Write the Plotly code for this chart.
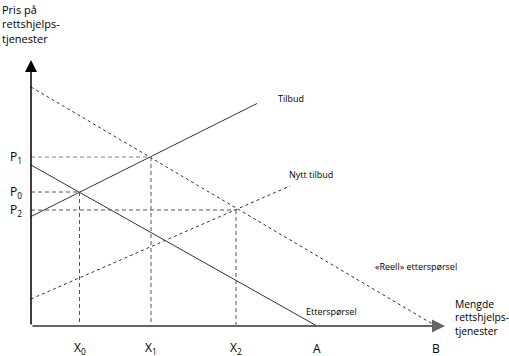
import plotly.graph_objects as go

# Quantities (x) and prices (y) in abstract units
demand_q = [0, 28.6]
demand_p = [16.1, 0]
real_demand_q = [0, 40.5]
real_demand_p = [23.9, 0]
supply_q = [0, 22.6]
supply_p = [10.95, 22.25]
new_supply_q = [0, 25.9]
new_supply_p = [2.7, 14.0]

eq_q = [4.85, 12.0, 20.5]     # X0, X1, X2
eq_p = [13.4, 16.9, 11.6]     # P0, P1, P2
x_tick_vals = [4.85, 12.0, 20.5, 28.6, 40.5]
x_tick_text = ["X<sub>0</sub>", "X<sub>1</sub>", "X<sub>2</sub>", "A", "B"]
y_tick_vals = [13.4, 16.9, 11.6]
y_tick_text = ["P<sub>0</sub>", "P<sub>1</sub>", "P<sub>2</sub>"]

FONT = "Open Sans"
dark = "#333333"
grey = "#555555"
lightgrey = "#aaaaaa"

fig = go.Figure()

def line(q, p, color, width=1, dash="solid"):
    fig.add_trace(go.Scatter(x=q, y=p, mode="lines",
                             line=dict(color=color, width=width, dash=dash),
                             hoverinfo="skip", showlegend=False))

line(demand_q, demand_p, dark, 1)
line(real_demand_q, real_demand_p, dark, 1, "3px,3px")
line(supply_q, supply_p, dark, 1)
line(new_supply_q, new_supply_p, dark, 1, "3px,3px")

# guide lines
h_colors = [grey, lightgrey, grey]
h_widths = [1, 1.6, 1]
for i in range(3):
    line([0, eq_q[i]], [eq_p[i], eq_p[i]], h_colors[i], h_widths[i], "4px,3px")
    line([eq_q[i], eq_q[i]], [eq_p[i], 0], grey, 1, "4px,3px")

# axes with arrows
fig.add_annotation(x=41.4, y=0, ax=0, ay=0, xref="x", yref="y", axref="x", ayref="y",
                   text="", showarrow=True, arrowhead=2, arrowsize=1.3, arrowwidth=2,
                   arrowcolor="#666666")
fig.add_annotation(x=0, y=26.6, ax=0, ay=0, xref="x", yref="y", axref="x", ayref="y",
                   text="", showarrow=True, arrowhead=2, arrowsize=1.6, arrowwidth=1.5,
                   arrowcolor="black")

# tick labels
for v, t in zip(x_tick_vals, x_tick_text):
    fig.add_annotation(x=v, y=-2.2, text=t, showarrow=False, xref="x", yref="y",
                       font=dict(family=FONT, size=12, color="black"))
for v, t in zip(y_tick_vals, y_tick_text):
    fig.add_annotation(x=-1.5, y=v, text=t, showarrow=False, xref="x", yref="y",
                       font=dict(family=FONT, size=12, color="black"))

# curve labels
small = dict(family=FONT, size=9, color="black")
fig.add_annotation(x=26.0, y=22.8, text="Tilbud", showarrow=False, font=small)
fig.add_annotation(x=28.0, y=15.2, text="Nytt tilbud", showarrow=False, font=small)
fig.add_annotation(x=38.5, y=6.0, text="«Reell» etterspørsel", showarrow=False, font=small)
fig.add_annotation(x=30.0, y=1.5, text="Etterspørsel", showarrow=False, font=small)

# axis titles
fig.add_annotation(x=0, y=1, xref="paper", yref="paper", xanchor="left", yanchor="top",
                   text="Pris på<br>rettshjelps-<br>tjenester", showarrow=False, align="left",
                   font=dict(family=FONT, size=11, color="black"))
fig.add_annotation(x=42.2, y=0.9, xanchor="left", yanchor="middle",
                   text="Mengde<br>rettshjelps-<br>tjenester", showarrow=False, align="left",
                   font=dict(family=FONT, size=10.3, color="black"))

fig.update_layout(
    width=509, height=356,
    margin=dict(l=0, r=0, t=0, b=0),
    paper_bgcolor="white", plot_bgcolor="white",
    xaxis=dict(range=[-3.1, 47.8], visible=False, fixedrange=True),
    yaxis=dict(range=[-3.0, 32.6], visible=False, fixedrange=True),
    showlegend=False,
)

fig.write_html("out.html", config={"displayModeBar": False},
               post_script="document.body.style.margin='0';document.body.style.overflow='hidden';")
